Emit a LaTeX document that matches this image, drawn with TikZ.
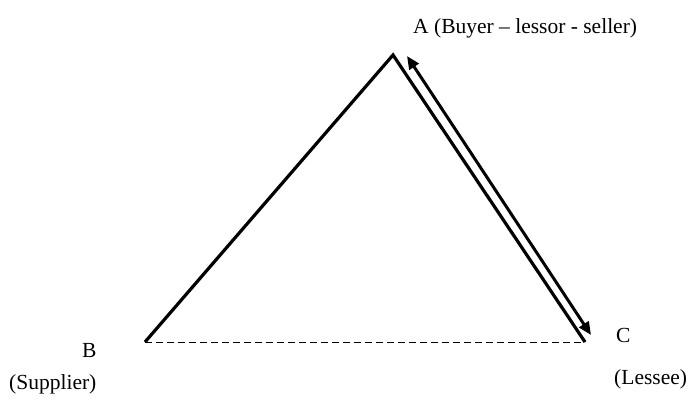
\documentclass[tikz,border=0pt]{standalone}
\usepackage{fontspec}
\setmainfont{Liberation Serif}
\usetikzlibrary{arrows.meta}
\begin{document}
\begin{tikzpicture}[x=1pt,y=-1pt,
  edge/.style={line width=3.2pt,line join=miter},
  base/.style={line width=1pt,dash pattern=on 7pt off 4pt},
  flow/.style={line width=3pt,{Triangle[length=13pt,width=11pt]}-{Triangle[length=13pt,width=11pt]}},
  lbl/.style={inner sep=0pt,anchor=base west,font=\fontsize{21.5}{25}\selectfont}]
\useasboundingbox (0,0) rectangle (691,408);
\coordinate (A) at (393,55);
\coordinate (B) at (145,342);
\coordinate (C) at (585,342);
\coordinate (a1) at (407,56);
\coordinate (a2) at (591,335);
\draw[edge] (B) -- (A) -- (C);
\draw[base] (B) -- (C);
\draw[flow] (a1) -- (a2);
\node[lbl] (tA) at (413,33) {A (Buyer – lessor - seller)};
\node[lbl] (tB) at (82,357) {B};
\node[lbl] (tS) at (9,389) {(Supplier)};
\node[lbl] (tC) at (616,342) {C};
\node[lbl] (tL) at (614,384) {(Lessee)};
\end{tikzpicture}
\end{document}
